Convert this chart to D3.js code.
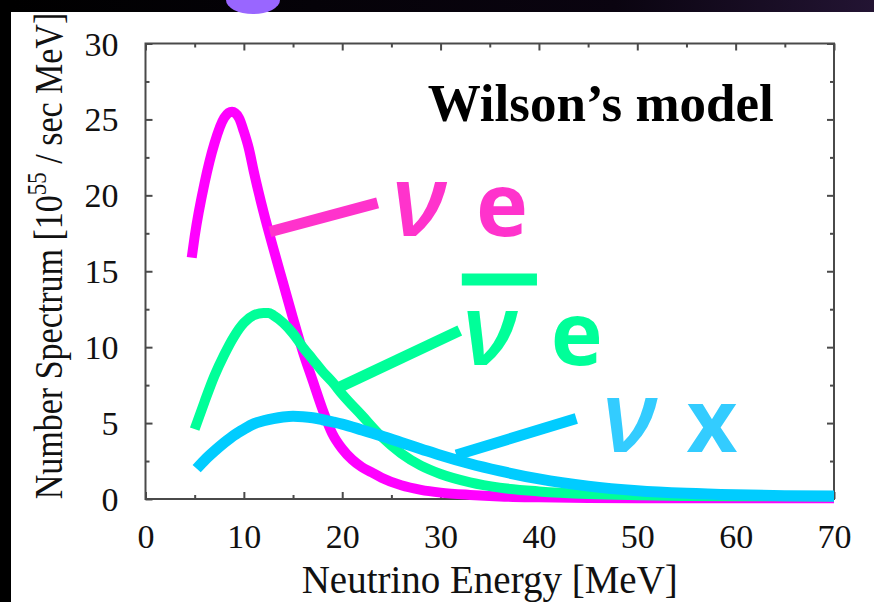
<!DOCTYPE html>
<html>
<head>
<meta charset="utf-8">
<script src="https://cdn.jsdelivr.net/npm/d3@7"></script>
<style>
  html, body { margin: 0; padding: 0; background: #fff; }
  svg { display: block; }
</style>
</head>
<body>
<svg id="chart" width="874" height="602"></svg>
<script>
// Supernova neutrino number spectra (Wilson's model)
const energyNuE = [4.7,5,6,7,8,8.8,9.5,10,10.5,11,12,13,14,15,16,17,18,19,20,21,22,23,24,26,28,30,33,36,40,45,50,60,70];
const spectrumNuE = [15.9,17.3,20.8,23.4,25.1,25.5,25.1,24.2,23.1,21.6,18.9,16.5,14.2,11.9,9.7,7.8,5.9,4.3,3.3,2.6,2.1,1.75,1.4,0.9,0.6,0.42,0.27,0.17,0.11,0.07,0.05,0.05,0.05];

const energyAntiNuE = [5,6,7,8,9,10,11,12,12.5,13,14,15,16,17,18,19,20,22,24,26,28,30,33,36,40,45,50,55,60,70];
const spectrumAntiNuE = [4.6,6.4,8.1,9.5,10.7,11.6,12.1,12.25,12.25,12.1,11.6,10.9,10.0,9.2,8.4,7.7,6.9,5.5,4.1,3.0,2.2,1.65,1.1,0.75,0.5,0.33,0.25,0.2,0.18,0.17];

const energyNuX = [5.2,6,7,8,9,10,11,12,13,14,15,16,17,18,19,20,22,24,26,28,30,33,36,40,45,50,55,60,65,70];
const spectrumNuX = [2.0,2.55,3.15,3.7,4.2,4.6,4.95,5.15,5.3,5.4,5.45,5.42,5.35,5.22,5.08,4.93,4.55,4.15,3.72,3.3,2.88,2.32,1.85,1.32,0.85,0.55,0.38,0.28,0.22,0.2];

const xMajorTicks = [0,10,20,30,40,50,60,70];
const xMinorTicks = [5,15,25,35,45,55,65];
const yMajorTicks = [0,5,10,15,20,25,30];
const yMinorTicks = [2.5,7.5,12.5,17.5,22.5,27.5];

const xTitle = "Neutrino Energy [MeV]";
const modelTitle = "Wilson\u2019s model";

// Series styling and their label / pointer annotations (in data units)
const series = [
  { name: "nue", E: energyNuE, N: spectrumNuE, color: "#ff00ff", width: 10,
    labelColor: "#ff33cc", pointerColor: "#ff33cc", pointer: [[12.65,17.6],[23.6,19.5]],
    nu: [25.0,17.3], sub: "e", subAt: [33.6,17.3], bar: null },
  { name: "anue", E: energyAntiNuE, N: spectrumAntiNuE, color: "#00ff99", width: 10,
    labelColor: "#00ff99", pointerColor: "#00ff99", pointer: [[19.5,7.3],[31.95,11.1]],
    nu: [32.2,8.8], sub: "e", subAt: [41.2,8.8], bar: [[32.16,14.45],[39.8,14.45]] },
  { name: "nux", E: energyNuX, N: spectrumNuX, color: "#00ccff", width: 11,
    labelColor: "#33ccff", pointerColor: "#00ccff", pointer: [[31.6,2.9],[43.8,5.3]],
    nu: [46.4,3.1], sub: "x", subAt: [55.0,3.1], bar: null }
];

const W = 874, H = 602;
const svg = d3.select("#chart");

// slide background: dark band on top and left
const grad = svg.append("defs").append("linearGradient").attr("id", "band")
  .attr("x1", "0%").attr("x2", "100%");
grad.append("stop").attr("offset", "0%").attr("stop-color", "#000");
grad.append("stop").attr("offset", "70%").attr("stop-color", "#0a0410");
grad.append("stop").attr("offset", "100%").attr("stop-color", "#231433");
svg.append("rect").attr("width", W).attr("height", H).attr("fill", "#000");
svg.append("rect").attr("x", 11).attr("y", 12).attr("width", W - 11).attr("height", H - 12).attr("fill", "#fff");
svg.append("rect").attr("x", 11).attr("y", 0).attr("width", W - 11).attr("height", 12).attr("fill", "url(#band)");
svg.append("ellipse").attr("cx", 253).attr("cy", 0).attr("rx", 27).attr("ry", 14).attr("fill", "#9966ff");

const x = d3.scaleLinear().domain([0, 70]).range([145.5, 834]);
const y = d3.scaleLinear().domain([0, 30]).range([499, 43.5]);

const serif = "'Liberation Serif', 'Times New Roman', serif";
const axisColor = "#4a4a4a";

function styleAxis(g) {
  g.select(".domain").remove();
  g.selectAll(".tick line").attr("stroke", axisColor).attr("stroke-width", 2);
}

// bottom axis with labels
svg.append("g").attr("transform", `translate(0,${y(0)})`)
  .call(d3.axisBottom(x).tickValues(xMajorTicks).tickSizeInner(-7).tickSizeOuter(0).tickPadding(49).tickFormat(d3.format("d")))
  .call(styleAxis)
  .call(g => g.selectAll("text").attr("fill", "#111").attr("font-family", serif)
    .attr("font-size", 34).attr("dy", 0));
svg.append("g").attr("transform", `translate(0,${y(0)})`)
  .call(d3.axisBottom(x).tickValues(xMinorTicks).tickSizeInner(-4).tickSizeOuter(0).tickFormat(""))
  .call(styleAxis);
// top axis (ticks only)
svg.append("g").attr("transform", `translate(0,${y(30)})`)
  .call(d3.axisTop(x).tickValues(xMajorTicks).tickSizeInner(-7).tickSizeOuter(0).tickFormat(""))
  .call(styleAxis);
svg.append("g").attr("transform", `translate(0,${y(30)})`)
  .call(d3.axisTop(x).tickValues(xMinorTicks).tickSizeInner(-4).tickSizeOuter(0).tickFormat(""))
  .call(styleAxis);
// left axis with labels
svg.append("g").attr("transform", `translate(${x(0)},0)`)
  .call(d3.axisLeft(y).tickValues(yMajorTicks).tickSizeInner(-7).tickSizeOuter(0).tickPadding(27).tickFormat(d3.format("d")))
  .call(styleAxis)
  .call(g => g.selectAll("text").attr("fill", "#111").attr("font-family", serif)
    .attr("font-size", 34).attr("dy", "0.34em"));
svg.append("g").attr("transform", `translate(${x(0)},0)`)
  .call(d3.axisLeft(y).tickValues(yMinorTicks).tickSizeInner(-4).tickSizeOuter(0).tickFormat(""))
  .call(styleAxis);
// right axis (ticks only)
svg.append("g").attr("transform", `translate(${x(70)},0)`)
  .call(d3.axisRight(y).tickValues(yMajorTicks).tickSizeInner(-7).tickSizeOuter(0).tickFormat(""))
  .call(styleAxis);
svg.append("g").attr("transform", `translate(${x(70)},0)`)
  .call(d3.axisRight(y).tickValues(yMinorTicks).tickSizeInner(-4).tickSizeOuter(0).tickFormat(""))
  .call(styleAxis);

// plot frame
svg.append("rect")
  .attr("x", x(0)).attr("y", y(30))
  .attr("width", x(70) - x(0)).attr("height", y(0) - y(30))
  .attr("fill", "none").attr("stroke", axisColor).attr("stroke-width", 2);

// axis titles
svg.append("text")
  .attr("transform", `translate(${(x(0) + x(70)) / 2},593)`)
  .attr("text-anchor", "middle").attr("font-family", serif).attr("font-size", 39).attr("fill", "#111")
  .text(xTitle);

const yt = svg.append("text")
  .attr("transform", `translate(62,256) rotate(-90) scale(1,1.2)`)
  .attr("text-anchor", "middle").attr("font-family", serif).attr("font-size", 34).attr("fill", "#111");
yt.append("tspan").text("Number Spectrum [10");
yt.append("tspan").attr("font-size", 23).attr("dy", -13).text("55");
yt.append("tspan").attr("dy", 13).text(" / sec MeV]");

// spectra
const line = d3.line().x(d => x(d[0])).y(d => y(d[1])).curve(d3.curveMonotoneX);
series.forEach(s => {
  svg.append("path")
    .datum(s.E.map((e, i) => [e, s.N[i]]))
    .attr("d", line)
    .attr("fill", "none").attr("stroke", s.color)
    .attr("stroke-width", s.width).attr("stroke-linecap", "butt").attr("stroke-linejoin", "round");
});

// pointers and labels
series.forEach(s => {
  svg.append("line")
    .attr("x1", x(s.pointer[0][0])).attr("y1", y(s.pointer[0][1]))
    .attr("x2", x(s.pointer[1][0])).attr("y2", y(s.pointer[1][1]))
    .attr("stroke", s.pointerColor).attr("stroke-width", 11);
  svg.append("text")
    .attr("transform", `translate(${x(s.nu[0])},${y(s.nu[1])}) scale(1.05,1)`)
    .attr("font-family", "'Open Sans', sans-serif").attr("font-style", "italic").attr("font-weight", 600)
    .attr("font-size", 100).attr("fill", s.labelColor).text("\u03BD");
  svg.append("text")
    .attr("transform", `translate(${x(s.subAt[0])},${y(s.subAt[1])})`)
    .attr("font-family", "'Open Sans', sans-serif").attr("font-weight", 700)
    .attr("font-size", 88).attr("fill", s.labelColor).text(s.sub);
  if (s.bar) {
    svg.append("line")
      .attr("x1", x(s.bar[0][0])).attr("y1", y(s.bar[0][1]))
      .attr("x2", x(s.bar[1][0])).attr("y2", y(s.bar[1][1]))
      .attr("stroke", s.labelColor).attr("stroke-width", 12);
  }
});

// model name
svg.append("text")
  .attr("transform", `translate(${x(28.7)},${y(24.9)})`)
  .attr("font-family", serif).attr("font-weight", 700).attr("font-size", 53).attr("fill", "#000")
  .text(modelTitle);
</script>
</body>
</html>
